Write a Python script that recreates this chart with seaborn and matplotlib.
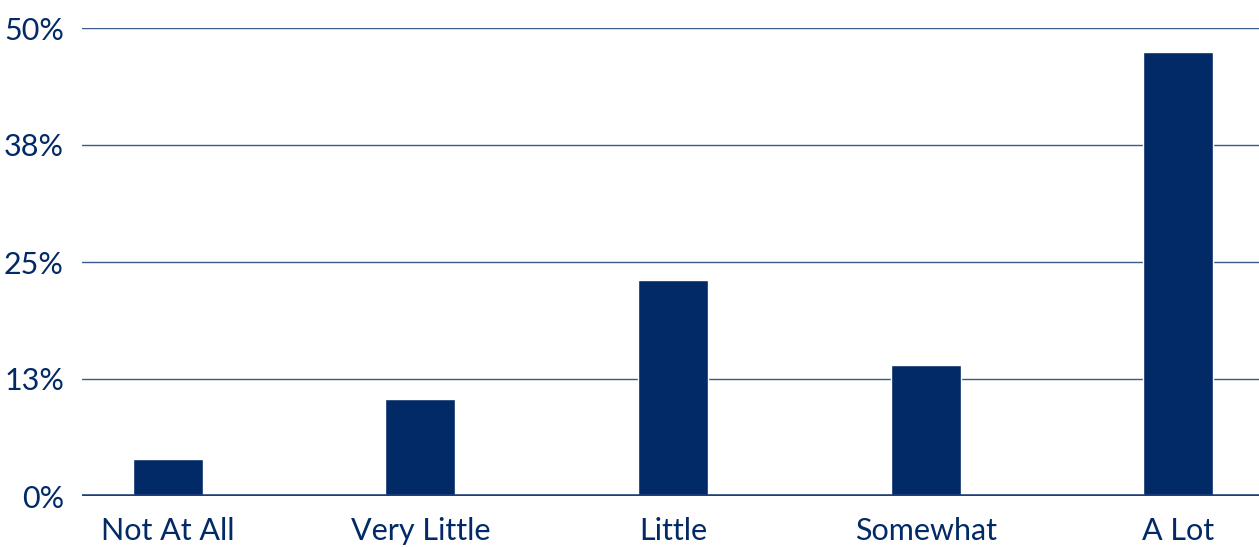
import matplotlib
matplotlib.use("Agg")
import matplotlib.pyplot as plt
import seaborn as sns
import pandas as pd

categories = ["Not At All", "Very Little", "Little", "Somewhat", "A Lot"]
values = [4.0, 10.4, 23.1, 14.0, 47.4]
tick_values = [0, 12.5, 25, 37.5, 50]
tick_labels = ["0%", "13%", "25%", "38%", "50%"]

navy = "#012A66"

sns.set_theme(style="white")
plt.rcParams["font.family"] = ["Lato", "DejaVu Sans"]

df = pd.DataFrame({"category": categories, "value": values})

fig = plt.figure(figsize=(12.59, 5.47), dpi=100)
ax = fig.add_axes([82 / 1259, 1 - 496 / 547, 1 - 82 / 1259, (496 - 28) / 547])

for t in tick_values[1:]:
    ax.axhline(t, color="#3B5A8C", lw=1.0, zorder=0)
ax.axhline(0, color="#1F3F7A", lw=2.6, zorder=3)

sns.barplot(data=df, x="category", y="value", color=navy, width=0.277,
            saturation=1, ax=ax, zorder=2)

ax.set_ylim(0, 50)
ax.set_xlim(-0.34, 4.32)
ax.set_yticks(tick_values)
ax.set_yticklabels(tick_labels)
ax.set_xlabel("")
ax.set_ylabel("")
for s in ax.spines.values():
    s.set_visible(False)
ax.tick_params(axis="both", length=0, labelsize=22, colors=navy)
ax.tick_params(axis="y", pad=13)
ax.tick_params(axis="x", pad=15)

fig.savefig("out.png", dpi=100)
